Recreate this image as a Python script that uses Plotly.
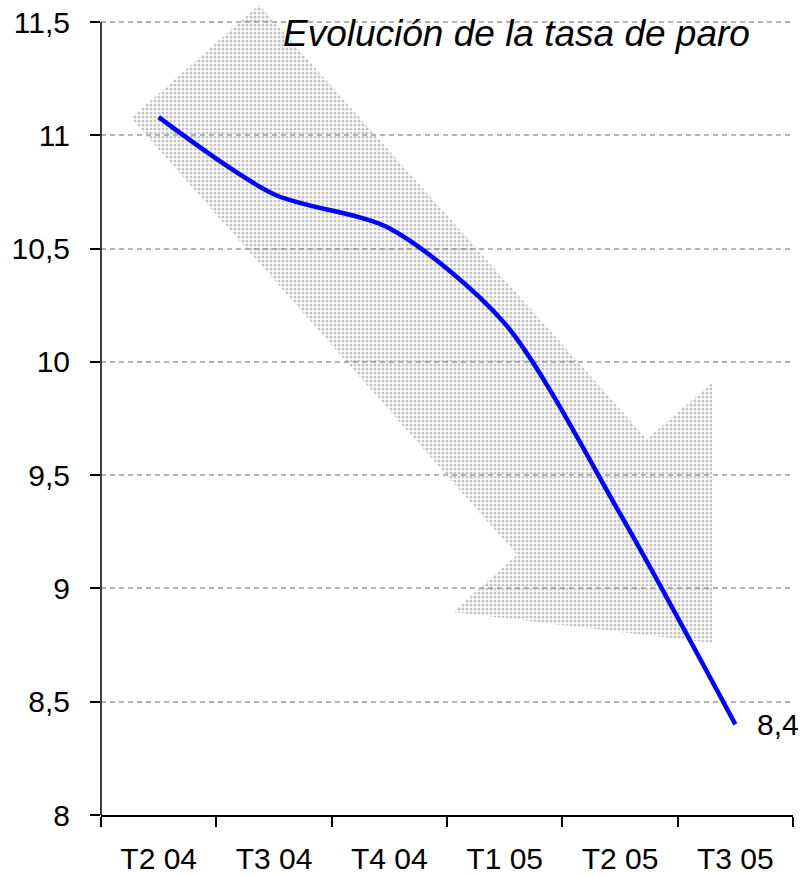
import plotly.graph_objects as go

# ---- data ----
categories = ["T2 04", "T3 04", "T4 04", "T1 05", "T2 05", "T3 05"]
tasa_paro = [11.08, 10.74, 10.59, 10.17, 9.33, 8.4]
y_tickvals = [8, 8.5, 9, 9.5, 10, 10.5, 11, 11.5]
title_text = "Evolución de la tasa de paro"

# decorative arrow outline (category-index x, value y)
arrow_x = [-0.24, 0.87, 4.234, 4.798, 4.798, 2.552, 3.107, -0.24]
arrow_y = [11.076, 11.575, 9.66, 9.907, 8.759, 8.896, 9.148, 11.076]

x_pos = list(range(len(categories)))
boundaries = [i - 0.5 for i in range(len(categories) + 1)]

FONT = "Liberation Sans, Arial, sans-serif"

fig = go.Figure()

fig.add_trace(go.Scatter(
    x=arrow_x, y=arrow_y, mode="lines", fill="toself",
    line=dict(width=0, color="rgba(0,0,0,0)"),
    fillcolor="rgba(255,255,255,0)",
    fillpattern=dict(shape=".", fgcolor="#8a8a8a", bgcolor="rgba(255,255,255,0)",
                     size=4, solidity=0.45),
    hoverinfo="skip", showlegend=False,
))

fig.add_trace(go.Scatter(
    x=x_pos, y=tasa_paro, mode="lines",
    line=dict(color="#0000FF", width=4.5, shape="spline", smoothing=0.8),
    showlegend=False,
))

last_label = f"{tasa_paro[-1]:.1f}".replace(".", ",")
fig.add_annotation(x=x_pos[-1], y=tasa_paro[-1], text=last_label, showarrow=False,
                   xanchor="left", yanchor="middle", xshift=20,
                   font=dict(family=FONT, size=30, color="black"))

fig.add_annotation(x=0.6, y=1.0, xref="paper", yref="paper", text=f"<i>{title_text}</i>",
                   showarrow=False, xanchor="center", yanchor="top", yshift=-8,
                   font=dict(family=FONT, size=37, color="black"))

# y axis line only up to 11.5
fig.add_shape(type="line", xref="paper", yref="y", x0=0, x1=0, y0=8, y1=11.5,
              line=dict(color="black", width=1.5))

fig.update_layout(
    width=802, height=876,
    margin=dict(l=101, r=9, t=3, b=61, autoexpand=False),
    paper_bgcolor="white", plot_bgcolor="white",
    separators=", ",
    font=dict(family=FONT, size=30, color="black"),
    xaxis=dict(
        range=[-0.5, len(categories) - 0.5],
        tickmode="array", tickvals=x_pos, ticktext=categories,
        ticks="", showgrid=False, zeroline=False,
        showline=True, linecolor="black", linewidth=1.5,
        ticklabelstandoff=16, automargin=False,
        minor=dict(tickmode="array", tickvals=boundaries, ticks="outside",
                   ticklen=10, tickwidth=1.5, tickcolor="black", showgrid=False),
    ),
    yaxis=dict(
        range=[8, 11.5839],
        tickmode="array", tickvals=y_tickvals,
        ticks="outside", ticklen=10, tickwidth=1.5, tickcolor="black",
        showline=False, zeroline=False, automargin=False,
        showgrid=True, gridcolor="#b4b4b4", gridwidth=1.5, griddash="5px,4px",
        ticklabelstandoff=14,
    ),
)

fig.write_html("out.html", config={"displayModeBar": False},
               post_script="document.body.style.margin='0';")
